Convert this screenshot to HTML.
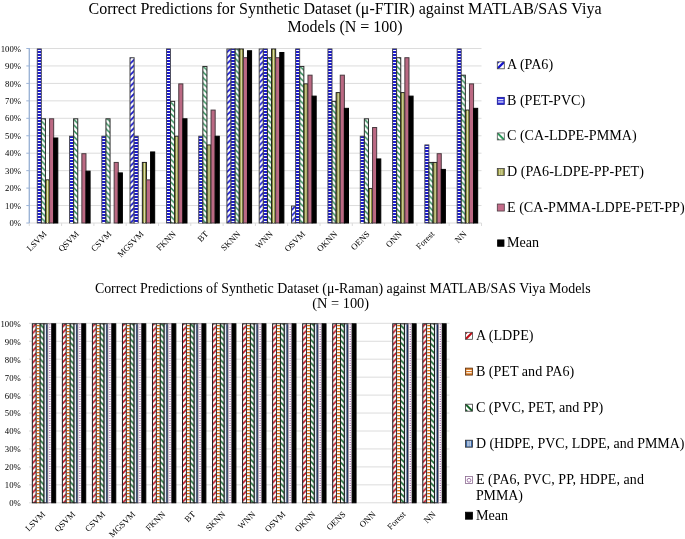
<!DOCTYPE html>
<html><head><meta charset="utf-8"><title>Correct Predictions charts</title>
<style>html,body{margin:0;padding:0;background:#fff}svg{display:block}text{font-family:'Liberation Serif','Times New Roman',serif;fill:#000}</style></head><body>
<svg width="685" height="539" viewBox="0 0 685 539">
<defs>
<pattern id="p1a" width="5.7" height="5.7" patternUnits="userSpaceOnUse"><rect width="5.7" height="5.7" fill="#fff"/><path d="M-1,1 L1,-1 M-1,6.7 L6.7,-1 M4.7,6.7 L6.7,4.7" stroke="#1414cc" stroke-width="1.75"/></pattern>
<pattern id="p1c" width="5.7" height="5.7" patternUnits="userSpaceOnUse"><rect width="5.7" height="5.7" fill="#fff"/><path d="M-1,-1 L6.7,6.7 M-1,4.7 L1,6.7 M4.7,-1 L6.7,1" stroke="#2a8a54" stroke-width="1.5"/></pattern>
<pattern id="p2a" width="5.9" height="5.9" patternUnits="userSpaceOnUse"><rect width="5.9" height="5.9" fill="#fff"/><path d="M-1,1 L1,-1 M-1,6.9 L6.9,-1 M4.9,6.9 L6.9,4.9" stroke="#c01020" stroke-width="1.7"/></pattern>
<pattern id="p2c" width="5.8" height="5.8" patternUnits="userSpaceOnUse"><rect width="5.8" height="5.8" fill="#fff"/><path d="M-1,-1 L6.8,6.8 M-1,4.8 L1,6.8 M4.8,-1 L6.8,1" stroke="#1a6e34" stroke-width="1.6"/></pattern>
</defs>
<rect width="685" height="539" fill="#fff"/>
<line x1="29.30" y1="223.00" x2="481.50" y2="223.00" stroke="#dcdcdc" stroke-width="1"/>
<line x1="29.30" y1="205.55" x2="481.50" y2="205.55" stroke="#dcdcdc" stroke-width="1"/>
<line x1="29.30" y1="188.10" x2="481.50" y2="188.10" stroke="#dcdcdc" stroke-width="1"/>
<line x1="29.30" y1="170.65" x2="481.50" y2="170.65" stroke="#dcdcdc" stroke-width="1"/>
<line x1="29.30" y1="153.20" x2="481.50" y2="153.20" stroke="#dcdcdc" stroke-width="1"/>
<line x1="29.30" y1="135.75" x2="481.50" y2="135.75" stroke="#dcdcdc" stroke-width="1"/>
<line x1="29.30" y1="118.30" x2="481.50" y2="118.30" stroke="#dcdcdc" stroke-width="1"/>
<line x1="29.30" y1="100.85" x2="481.50" y2="100.85" stroke="#dcdcdc" stroke-width="1"/>
<line x1="29.30" y1="83.40" x2="481.50" y2="83.40" stroke="#dcdcdc" stroke-width="1"/>
<line x1="29.30" y1="65.95" x2="481.50" y2="65.95" stroke="#dcdcdc" stroke-width="1"/>
<line x1="29.30" y1="48.50" x2="481.50" y2="48.50" stroke="#dcdcdc" stroke-width="1"/>
<rect x="37.22" y="48.90" width="4.11" height="174.10" fill="#1c1ccc" stroke="#444" stroke-width="0.8"/>
<line x1="39.28" y1="50.00" x2="39.28" y2="223.00" stroke="#fff" stroke-width="3" stroke-dasharray="1 2"/>
<rect x="41.34" y="118.80" width="4.11" height="104.20" fill="url(#p1c)" stroke="#2a2a2a" stroke-width="1"/>
<rect x="45.45" y="179.88" width="4.11" height="43.12" fill="#8a8e3c" stroke="#222" stroke-width="1"/>
<rect x="47.01" y="180.38" width="1.00" height="42.62" fill="#e2e2b4"/>
<rect x="49.56" y="118.80" width="4.11" height="104.20" fill="#bb6983" stroke="#4a3a40" stroke-width="1"/>
<rect x="53.68" y="138.00" width="4.11" height="85.00" fill="#000" stroke="#000" stroke-width="1"/>
<rect x="69.52" y="136.15" width="4.11" height="86.85" fill="#1c1ccc" stroke="#444" stroke-width="0.8"/>
<line x1="71.58" y1="138.00" x2="71.58" y2="223.00" stroke="#fff" stroke-width="3" stroke-dasharray="1 2"/>
<rect x="73.64" y="118.80" width="4.11" height="104.20" fill="url(#p1c)" stroke="#2a2a2a" stroke-width="1"/>
<rect x="81.86" y="153.70" width="4.11" height="69.30" fill="#bb6983" stroke="#4a3a40" stroke-width="1"/>
<rect x="85.98" y="171.15" width="4.11" height="51.85" fill="#000" stroke="#000" stroke-width="1"/>
<rect x="101.82" y="136.15" width="4.11" height="86.85" fill="#1c1ccc" stroke="#444" stroke-width="0.8"/>
<line x1="103.88" y1="138.00" x2="103.88" y2="223.00" stroke="#fff" stroke-width="3" stroke-dasharray="1 2"/>
<rect x="105.94" y="118.80" width="4.11" height="104.20" fill="url(#p1c)" stroke="#2a2a2a" stroke-width="1"/>
<rect x="114.16" y="162.43" width="4.11" height="60.57" fill="#bb6983" stroke="#4a3a40" stroke-width="1"/>
<rect x="118.28" y="172.90" width="4.11" height="50.10" fill="#000" stroke="#000" stroke-width="1"/>
<rect x="130.01" y="57.72" width="4.11" height="165.28" fill="url(#p1a)" stroke="#444" stroke-width="1"/>
<rect x="134.12" y="136.15" width="4.11" height="86.85" fill="#1c1ccc" stroke="#444" stroke-width="0.8"/>
<line x1="136.18" y1="138.00" x2="136.18" y2="223.00" stroke="#fff" stroke-width="3" stroke-dasharray="1 2"/>
<rect x="142.35" y="162.43" width="4.11" height="60.57" fill="#8a8e3c" stroke="#222" stroke-width="1"/>
<rect x="143.91" y="162.93" width="1.00" height="60.07" fill="#e2e2b4"/>
<rect x="146.46" y="179.88" width="4.11" height="43.12" fill="#bb6983" stroke="#4a3a40" stroke-width="1"/>
<rect x="150.58" y="151.95" width="4.11" height="71.05" fill="#000" stroke="#000" stroke-width="1"/>
<rect x="166.42" y="48.90" width="4.11" height="174.10" fill="#1c1ccc" stroke="#444" stroke-width="0.8"/>
<line x1="168.48" y1="50.00" x2="168.48" y2="223.00" stroke="#fff" stroke-width="3" stroke-dasharray="1 2"/>
<rect x="170.54" y="101.35" width="4.11" height="121.65" fill="url(#p1c)" stroke="#2a2a2a" stroke-width="1"/>
<rect x="174.65" y="136.25" width="4.11" height="86.75" fill="#8a8e3c" stroke="#222" stroke-width="1"/>
<rect x="176.21" y="136.75" width="1.00" height="86.25" fill="#e2e2b4"/>
<rect x="178.76" y="83.90" width="4.11" height="139.10" fill="#bb6983" stroke="#4a3a40" stroke-width="1"/>
<rect x="182.88" y="118.80" width="4.11" height="104.20" fill="#000" stroke="#000" stroke-width="1"/>
<rect x="198.72" y="136.15" width="4.11" height="86.85" fill="#1c1ccc" stroke="#444" stroke-width="0.8"/>
<line x1="200.78" y1="138.00" x2="200.78" y2="223.00" stroke="#fff" stroke-width="3" stroke-dasharray="1 2"/>
<rect x="202.84" y="66.45" width="4.11" height="156.55" fill="url(#p1c)" stroke="#2a2a2a" stroke-width="1"/>
<rect x="206.95" y="144.97" width="4.11" height="78.03" fill="#8a8e3c" stroke="#222" stroke-width="1"/>
<rect x="208.51" y="145.47" width="1.00" height="77.53" fill="#e2e2b4"/>
<rect x="211.06" y="110.08" width="4.11" height="112.92" fill="#bb6983" stroke="#4a3a40" stroke-width="1"/>
<rect x="215.18" y="136.25" width="4.11" height="86.75" fill="#000" stroke="#000" stroke-width="1"/>
<rect x="226.91" y="49.00" width="4.11" height="174.00" fill="url(#p1a)" stroke="#444" stroke-width="1"/>
<rect x="231.02" y="48.90" width="4.11" height="174.10" fill="#1c1ccc" stroke="#444" stroke-width="0.8"/>
<line x1="233.08" y1="50.00" x2="233.08" y2="223.00" stroke="#fff" stroke-width="3" stroke-dasharray="1 2"/>
<rect x="235.14" y="49.00" width="4.11" height="174.00" fill="url(#p1c)" stroke="#2a2a2a" stroke-width="1"/>
<rect x="239.25" y="49.00" width="4.11" height="174.00" fill="#8a8e3c" stroke="#222" stroke-width="1"/>
<rect x="240.81" y="49.50" width="1.00" height="173.50" fill="#e2e2b4"/>
<rect x="243.36" y="57.72" width="4.11" height="165.28" fill="#bb6983" stroke="#4a3a40" stroke-width="1"/>
<rect x="247.48" y="50.75" width="4.11" height="172.25" fill="#000" stroke="#000" stroke-width="1"/>
<rect x="259.21" y="49.00" width="4.11" height="174.00" fill="url(#p1a)" stroke="#444" stroke-width="1"/>
<rect x="263.32" y="48.90" width="4.11" height="174.10" fill="#1c1ccc" stroke="#444" stroke-width="0.8"/>
<line x1="265.38" y1="50.00" x2="265.38" y2="223.00" stroke="#fff" stroke-width="3" stroke-dasharray="1 2"/>
<rect x="267.44" y="57.72" width="4.11" height="165.28" fill="url(#p1c)" stroke="#2a2a2a" stroke-width="1"/>
<rect x="271.55" y="49.00" width="4.11" height="174.00" fill="#8a8e3c" stroke="#222" stroke-width="1"/>
<rect x="273.11" y="49.50" width="1.00" height="173.50" fill="#e2e2b4"/>
<rect x="275.66" y="57.72" width="4.11" height="165.28" fill="#bb6983" stroke="#4a3a40" stroke-width="1"/>
<rect x="279.78" y="52.49" width="4.11" height="170.51" fill="#000" stroke="#000" stroke-width="1"/>
<rect x="291.51" y="206.05" width="4.11" height="16.95" fill="url(#p1a)" stroke="#444" stroke-width="1"/>
<rect x="295.62" y="48.90" width="4.11" height="174.10" fill="#1c1ccc" stroke="#444" stroke-width="0.8"/>
<line x1="297.68" y1="50.00" x2="297.68" y2="223.00" stroke="#fff" stroke-width="3" stroke-dasharray="1 2"/>
<rect x="299.74" y="66.45" width="4.11" height="156.55" fill="url(#p1c)" stroke="#2a2a2a" stroke-width="1"/>
<rect x="303.85" y="83.90" width="4.11" height="139.10" fill="#8a8e3c" stroke="#222" stroke-width="1"/>
<rect x="305.41" y="84.40" width="1.00" height="138.60" fill="#e2e2b4"/>
<rect x="307.96" y="75.18" width="4.11" height="147.82" fill="#bb6983" stroke="#4a3a40" stroke-width="1"/>
<rect x="312.08" y="96.12" width="4.11" height="126.88" fill="#000" stroke="#000" stroke-width="1"/>
<rect x="327.92" y="48.90" width="4.11" height="174.10" fill="#1c1ccc" stroke="#444" stroke-width="0.8"/>
<line x1="329.98" y1="50.00" x2="329.98" y2="223.00" stroke="#fff" stroke-width="3" stroke-dasharray="1 2"/>
<rect x="332.04" y="101.35" width="4.11" height="121.65" fill="url(#p1c)" stroke="#2a2a2a" stroke-width="1"/>
<rect x="336.15" y="92.62" width="4.11" height="130.38" fill="#8a8e3c" stroke="#222" stroke-width="1"/>
<rect x="337.71" y="93.12" width="1.00" height="129.88" fill="#e2e2b4"/>
<rect x="340.26" y="75.18" width="4.11" height="147.82" fill="#bb6983" stroke="#4a3a40" stroke-width="1"/>
<rect x="344.38" y="108.33" width="4.11" height="114.67" fill="#000" stroke="#000" stroke-width="1"/>
<rect x="360.22" y="136.15" width="4.11" height="86.85" fill="#1c1ccc" stroke="#444" stroke-width="0.8"/>
<line x1="362.28" y1="138.00" x2="362.28" y2="223.00" stroke="#fff" stroke-width="3" stroke-dasharray="1 2"/>
<rect x="364.34" y="118.80" width="4.11" height="104.20" fill="url(#p1c)" stroke="#2a2a2a" stroke-width="1"/>
<rect x="368.45" y="188.60" width="4.11" height="34.40" fill="#8a8e3c" stroke="#222" stroke-width="1"/>
<rect x="370.01" y="189.10" width="1.00" height="33.90" fill="#e2e2b4"/>
<rect x="372.56" y="127.52" width="4.11" height="95.48" fill="#bb6983" stroke="#4a3a40" stroke-width="1"/>
<rect x="376.68" y="158.94" width="4.11" height="64.06" fill="#000" stroke="#000" stroke-width="1"/>
<rect x="392.52" y="48.90" width="4.11" height="174.10" fill="#1c1ccc" stroke="#444" stroke-width="0.8"/>
<line x1="394.58" y1="50.00" x2="394.58" y2="223.00" stroke="#fff" stroke-width="3" stroke-dasharray="1 2"/>
<rect x="396.64" y="57.72" width="4.11" height="165.28" fill="url(#p1c)" stroke="#2a2a2a" stroke-width="1"/>
<rect x="400.75" y="92.62" width="4.11" height="130.38" fill="#8a8e3c" stroke="#222" stroke-width="1"/>
<rect x="402.31" y="93.12" width="1.00" height="129.88" fill="#e2e2b4"/>
<rect x="404.86" y="57.72" width="4.11" height="165.28" fill="#bb6983" stroke="#4a3a40" stroke-width="1"/>
<rect x="408.98" y="96.12" width="4.11" height="126.88" fill="#000" stroke="#000" stroke-width="1"/>
<rect x="424.82" y="144.88" width="4.11" height="78.12" fill="#1c1ccc" stroke="#444" stroke-width="0.8"/>
<line x1="426.88" y1="146.00" x2="426.88" y2="223.00" stroke="#fff" stroke-width="3" stroke-dasharray="1 2"/>
<rect x="428.94" y="162.43" width="4.11" height="60.57" fill="url(#p1c)" stroke="#2a2a2a" stroke-width="1"/>
<rect x="433.05" y="162.43" width="4.11" height="60.57" fill="#8a8e3c" stroke="#222" stroke-width="1"/>
<rect x="434.61" y="162.93" width="1.00" height="60.07" fill="#e2e2b4"/>
<rect x="437.16" y="153.70" width="4.11" height="69.30" fill="#bb6983" stroke="#4a3a40" stroke-width="1"/>
<rect x="441.28" y="169.41" width="4.11" height="53.59" fill="#000" stroke="#000" stroke-width="1"/>
<rect x="457.12" y="48.90" width="4.11" height="174.10" fill="#1c1ccc" stroke="#444" stroke-width="0.8"/>
<line x1="459.18" y1="50.00" x2="459.18" y2="223.00" stroke="#fff" stroke-width="3" stroke-dasharray="1 2"/>
<rect x="461.24" y="75.18" width="4.11" height="147.82" fill="url(#p1c)" stroke="#2a2a2a" stroke-width="1"/>
<rect x="465.35" y="110.08" width="4.11" height="112.92" fill="#8a8e3c" stroke="#222" stroke-width="1"/>
<rect x="466.91" y="110.58" width="1.00" height="112.42" fill="#e2e2b4"/>
<rect x="469.46" y="83.90" width="4.11" height="139.10" fill="#bb6983" stroke="#4a3a40" stroke-width="1"/>
<rect x="473.58" y="108.33" width="4.11" height="114.67" fill="#000" stroke="#000" stroke-width="1"/>
<line x1="29.30" y1="48.00" x2="29.30" y2="223.50" stroke="#9db4d6" stroke-width="1.4"/>
<line x1="26.30" y1="223.00" x2="29.30" y2="223.00" stroke="#9db4d6" stroke-width="1"/>
<line x1="26.30" y1="205.55" x2="29.30" y2="205.55" stroke="#9db4d6" stroke-width="1"/>
<line x1="26.30" y1="188.10" x2="29.30" y2="188.10" stroke="#9db4d6" stroke-width="1"/>
<line x1="26.30" y1="170.65" x2="29.30" y2="170.65" stroke="#9db4d6" stroke-width="1"/>
<line x1="26.30" y1="153.20" x2="29.30" y2="153.20" stroke="#9db4d6" stroke-width="1"/>
<line x1="26.30" y1="135.75" x2="29.30" y2="135.75" stroke="#9db4d6" stroke-width="1"/>
<line x1="26.30" y1="118.30" x2="29.30" y2="118.30" stroke="#9db4d6" stroke-width="1"/>
<line x1="26.30" y1="100.85" x2="29.30" y2="100.85" stroke="#9db4d6" stroke-width="1"/>
<line x1="26.30" y1="83.40" x2="29.30" y2="83.40" stroke="#9db4d6" stroke-width="1"/>
<line x1="26.30" y1="65.95" x2="29.30" y2="65.95" stroke="#9db4d6" stroke-width="1"/>
<line x1="26.30" y1="48.50" x2="29.30" y2="48.50" stroke="#9db4d6" stroke-width="1"/>
<line x1="29.30" y1="223.00" x2="29.30" y2="226.00" stroke="#dcdcdc" stroke-width="1"/>
<line x1="61.60" y1="223.00" x2="61.60" y2="226.00" stroke="#dcdcdc" stroke-width="1"/>
<line x1="93.90" y1="223.00" x2="93.90" y2="226.00" stroke="#dcdcdc" stroke-width="1"/>
<line x1="126.20" y1="223.00" x2="126.20" y2="226.00" stroke="#dcdcdc" stroke-width="1"/>
<line x1="158.50" y1="223.00" x2="158.50" y2="226.00" stroke="#dcdcdc" stroke-width="1"/>
<line x1="190.80" y1="223.00" x2="190.80" y2="226.00" stroke="#dcdcdc" stroke-width="1"/>
<line x1="223.10" y1="223.00" x2="223.10" y2="226.00" stroke="#dcdcdc" stroke-width="1"/>
<line x1="255.40" y1="223.00" x2="255.40" y2="226.00" stroke="#dcdcdc" stroke-width="1"/>
<line x1="287.70" y1="223.00" x2="287.70" y2="226.00" stroke="#dcdcdc" stroke-width="1"/>
<line x1="320.00" y1="223.00" x2="320.00" y2="226.00" stroke="#dcdcdc" stroke-width="1"/>
<line x1="352.30" y1="223.00" x2="352.30" y2="226.00" stroke="#dcdcdc" stroke-width="1"/>
<line x1="384.60" y1="223.00" x2="384.60" y2="226.00" stroke="#dcdcdc" stroke-width="1"/>
<line x1="416.90" y1="223.00" x2="416.90" y2="226.00" stroke="#dcdcdc" stroke-width="1"/>
<line x1="449.20" y1="223.00" x2="449.20" y2="226.00" stroke="#dcdcdc" stroke-width="1"/>
<line x1="481.50" y1="223.00" x2="481.50" y2="226.00" stroke="#dcdcdc" stroke-width="1"/>
<text x="21.00" y="226.10" font-size="8.7" text-anchor="end" fill="#111">0%</text>
<text x="21.00" y="208.65" font-size="8.7" text-anchor="end" fill="#111">10%</text>
<text x="21.00" y="191.20" font-size="8.7" text-anchor="end" fill="#111">20%</text>
<text x="21.00" y="173.75" font-size="8.7" text-anchor="end" fill="#111">30%</text>
<text x="21.00" y="156.30" font-size="8.7" text-anchor="end" fill="#111">40%</text>
<text x="21.00" y="138.85" font-size="8.7" text-anchor="end" fill="#111">50%</text>
<text x="21.00" y="121.40" font-size="8.7" text-anchor="end" fill="#111">60%</text>
<text x="21.00" y="103.95" font-size="8.7" text-anchor="end" fill="#111">70%</text>
<text x="21.00" y="86.50" font-size="8.7" text-anchor="end" fill="#111">80%</text>
<text x="21.00" y="69.05" font-size="8.7" text-anchor="end" fill="#111">90%</text>
<text x="21.00" y="51.60" font-size="8.7" text-anchor="end" fill="#111">100%</text>
<text font-size="8.7" text-anchor="end" fill="#111" transform="translate(47.25,234.60) rotate(-45)">LSVM</text>
<text font-size="8.7" text-anchor="end" fill="#111" transform="translate(79.55,234.60) rotate(-45)">QSVM</text>
<text font-size="8.7" text-anchor="end" fill="#111" transform="translate(111.85,234.60) rotate(-45)">CSVM</text>
<text font-size="8.7" text-anchor="end" fill="#111" transform="translate(144.15,234.60) rotate(-45)">MGSVM</text>
<text font-size="8.7" text-anchor="end" fill="#111" transform="translate(176.45,234.60) rotate(-45)">FKNN</text>
<text font-size="8.7" text-anchor="end" fill="#111" transform="translate(208.75,234.60) rotate(-45)">BT</text>
<text font-size="8.7" text-anchor="end" fill="#111" transform="translate(241.05,234.60) rotate(-45)">SKNN</text>
<text font-size="8.7" text-anchor="end" fill="#111" transform="translate(273.35,234.60) rotate(-45)">WNN</text>
<text font-size="8.7" text-anchor="end" fill="#111" transform="translate(305.65,234.60) rotate(-45)">OSVM</text>
<text font-size="8.7" text-anchor="end" fill="#111" transform="translate(337.95,234.60) rotate(-45)">OKNN</text>
<text font-size="8.7" text-anchor="end" fill="#111" transform="translate(370.25,234.60) rotate(-45)">OENS</text>
<text font-size="8.7" text-anchor="end" fill="#111" transform="translate(402.55,234.60) rotate(-45)">ONN</text>
<text font-size="8.7" text-anchor="end" fill="#111" transform="translate(434.85,234.60) rotate(-45)">Forest</text>
<text font-size="8.7" text-anchor="end" fill="#111" transform="translate(467.15,234.60) rotate(-45)">NN</text>
<line x1="29.00" y1="502.80" x2="449.50" y2="502.80" stroke="#dcdcdc" stroke-width="1"/>
<line x1="29.00" y1="484.85" x2="449.50" y2="484.85" stroke="#dcdcdc" stroke-width="1"/>
<line x1="29.00" y1="466.90" x2="449.50" y2="466.90" stroke="#dcdcdc" stroke-width="1"/>
<line x1="29.00" y1="448.95" x2="449.50" y2="448.95" stroke="#dcdcdc" stroke-width="1"/>
<line x1="29.00" y1="431.00" x2="449.50" y2="431.00" stroke="#dcdcdc" stroke-width="1"/>
<line x1="29.00" y1="413.05" x2="449.50" y2="413.05" stroke="#dcdcdc" stroke-width="1"/>
<line x1="29.00" y1="395.10" x2="449.50" y2="395.10" stroke="#dcdcdc" stroke-width="1"/>
<line x1="29.00" y1="377.15" x2="449.50" y2="377.15" stroke="#dcdcdc" stroke-width="1"/>
<line x1="29.00" y1="359.20" x2="449.50" y2="359.20" stroke="#dcdcdc" stroke-width="1"/>
<line x1="29.00" y1="341.25" x2="449.50" y2="341.25" stroke="#dcdcdc" stroke-width="1"/>
<line x1="29.00" y1="323.30" x2="449.50" y2="323.30" stroke="#dcdcdc" stroke-width="1"/>
<rect x="32.33" y="323.80" width="3.89" height="179.00" fill="url(#p2a)" stroke="#1a1a1a" stroke-width="1"/>
<rect x="36.23" y="323.70" width="3.89" height="179.10" fill="#fff" stroke="#222" stroke-width="0.8"/>
<line x1="38.18" y1="325.00" x2="38.18" y2="502.80" stroke="#d87010" stroke-width="2.8" stroke-dasharray="1.2 1.8"/>
<rect x="40.12" y="323.80" width="3.89" height="179.00" fill="url(#p2c)" stroke="#1a1a1a" stroke-width="1"/>
<rect x="44.02" y="323.80" width="3.89" height="179.00" fill="#e4ecf4" stroke="#1a1a1a" stroke-width="1"/>
<rect x="46.12" y="324.30" width="1.50" height="178.50" fill="#182c58"/>
<rect x="47.91" y="323.65" width="3.89" height="179.15" fill="#fff" stroke="#8a8088" stroke-width="0.7"/>
<line x1="49.86" y1="324.30" x2="49.86" y2="502.80" stroke="#a868b0" stroke-width="1.3" stroke-dasharray="1 1.4"/>
<rect x="51.81" y="323.80" width="3.89" height="179.00" fill="#000" stroke="#000" stroke-width="1"/>
<rect x="62.37" y="323.80" width="3.89" height="179.00" fill="url(#p2a)" stroke="#1a1a1a" stroke-width="1"/>
<rect x="66.26" y="323.70" width="3.89" height="179.10" fill="#fff" stroke="#222" stroke-width="0.8"/>
<line x1="68.21" y1="325.00" x2="68.21" y2="502.80" stroke="#d87010" stroke-width="2.8" stroke-dasharray="1.2 1.8"/>
<rect x="70.16" y="323.80" width="3.89" height="179.00" fill="url(#p2c)" stroke="#1a1a1a" stroke-width="1"/>
<rect x="74.05" y="323.80" width="3.89" height="179.00" fill="#e4ecf4" stroke="#1a1a1a" stroke-width="1"/>
<rect x="76.15" y="324.30" width="1.50" height="178.50" fill="#182c58"/>
<rect x="77.95" y="323.65" width="3.89" height="179.15" fill="#fff" stroke="#8a8088" stroke-width="0.7"/>
<line x1="79.90" y1="324.30" x2="79.90" y2="502.80" stroke="#a868b0" stroke-width="1.3" stroke-dasharray="1 1.4"/>
<rect x="81.84" y="323.80" width="3.89" height="179.00" fill="#000" stroke="#000" stroke-width="1"/>
<rect x="92.41" y="323.80" width="3.89" height="179.00" fill="url(#p2a)" stroke="#1a1a1a" stroke-width="1"/>
<rect x="96.30" y="323.70" width="3.89" height="179.10" fill="#fff" stroke="#222" stroke-width="0.8"/>
<line x1="98.25" y1="325.00" x2="98.25" y2="502.80" stroke="#d87010" stroke-width="2.8" stroke-dasharray="1.2 1.8"/>
<rect x="100.19" y="323.80" width="3.89" height="179.00" fill="url(#p2c)" stroke="#1a1a1a" stroke-width="1"/>
<rect x="104.09" y="323.80" width="3.89" height="179.00" fill="#e4ecf4" stroke="#1a1a1a" stroke-width="1"/>
<rect x="106.19" y="324.30" width="1.50" height="178.50" fill="#182c58"/>
<rect x="107.98" y="323.65" width="3.89" height="179.15" fill="#fff" stroke="#8a8088" stroke-width="0.7"/>
<line x1="109.93" y1="324.30" x2="109.93" y2="502.80" stroke="#a868b0" stroke-width="1.3" stroke-dasharray="1 1.4"/>
<rect x="111.88" y="323.80" width="3.89" height="179.00" fill="#000" stroke="#000" stroke-width="1"/>
<rect x="122.44" y="323.80" width="3.89" height="179.00" fill="url(#p2a)" stroke="#1a1a1a" stroke-width="1"/>
<rect x="126.34" y="323.70" width="3.89" height="179.10" fill="#fff" stroke="#222" stroke-width="0.8"/>
<line x1="128.28" y1="325.00" x2="128.28" y2="502.80" stroke="#d87010" stroke-width="2.8" stroke-dasharray="1.2 1.8"/>
<rect x="130.23" y="323.80" width="3.89" height="179.00" fill="url(#p2c)" stroke="#1a1a1a" stroke-width="1"/>
<rect x="134.12" y="323.80" width="3.89" height="179.00" fill="#e4ecf4" stroke="#1a1a1a" stroke-width="1"/>
<rect x="136.22" y="324.30" width="1.50" height="178.50" fill="#182c58"/>
<rect x="138.02" y="323.65" width="3.89" height="179.15" fill="#fff" stroke="#8a8088" stroke-width="0.7"/>
<line x1="139.97" y1="324.30" x2="139.97" y2="502.80" stroke="#a868b0" stroke-width="1.3" stroke-dasharray="1 1.4"/>
<rect x="141.91" y="323.80" width="3.89" height="179.00" fill="#000" stroke="#000" stroke-width="1"/>
<rect x="152.48" y="323.80" width="3.89" height="179.00" fill="url(#p2a)" stroke="#1a1a1a" stroke-width="1"/>
<rect x="156.37" y="323.70" width="3.89" height="179.10" fill="#fff" stroke="#222" stroke-width="0.8"/>
<line x1="158.32" y1="325.00" x2="158.32" y2="502.80" stroke="#d87010" stroke-width="2.8" stroke-dasharray="1.2 1.8"/>
<rect x="160.27" y="323.80" width="3.89" height="179.00" fill="url(#p2c)" stroke="#1a1a1a" stroke-width="1"/>
<rect x="164.16" y="323.80" width="3.89" height="179.00" fill="#e4ecf4" stroke="#1a1a1a" stroke-width="1"/>
<rect x="166.26" y="324.30" width="1.50" height="178.50" fill="#182c58"/>
<rect x="168.06" y="323.65" width="3.89" height="179.15" fill="#fff" stroke="#8a8088" stroke-width="0.7"/>
<line x1="170.00" y1="324.30" x2="170.00" y2="502.80" stroke="#a868b0" stroke-width="1.3" stroke-dasharray="1 1.4"/>
<rect x="171.95" y="323.80" width="3.89" height="179.00" fill="#000" stroke="#000" stroke-width="1"/>
<rect x="182.51" y="323.80" width="3.89" height="179.00" fill="url(#p2a)" stroke="#1a1a1a" stroke-width="1"/>
<rect x="186.41" y="323.70" width="3.89" height="179.10" fill="#fff" stroke="#222" stroke-width="0.8"/>
<line x1="188.35" y1="325.00" x2="188.35" y2="502.80" stroke="#d87010" stroke-width="2.8" stroke-dasharray="1.2 1.8"/>
<rect x="190.30" y="323.80" width="3.89" height="179.00" fill="url(#p2c)" stroke="#1a1a1a" stroke-width="1"/>
<rect x="194.20" y="323.80" width="3.89" height="179.00" fill="#e4ecf4" stroke="#1a1a1a" stroke-width="1"/>
<rect x="196.29" y="324.30" width="1.50" height="178.50" fill="#182c58"/>
<rect x="198.09" y="323.65" width="3.89" height="179.15" fill="#fff" stroke="#8a8088" stroke-width="0.7"/>
<line x1="200.04" y1="324.30" x2="200.04" y2="502.80" stroke="#a868b0" stroke-width="1.3" stroke-dasharray="1 1.4"/>
<rect x="201.99" y="323.80" width="3.89" height="179.00" fill="#000" stroke="#000" stroke-width="1"/>
<rect x="212.55" y="323.80" width="3.89" height="179.00" fill="url(#p2a)" stroke="#1a1a1a" stroke-width="1"/>
<rect x="216.44" y="323.70" width="3.89" height="179.10" fill="#fff" stroke="#222" stroke-width="0.8"/>
<line x1="218.39" y1="325.00" x2="218.39" y2="502.80" stroke="#d87010" stroke-width="2.8" stroke-dasharray="1.2 1.8"/>
<rect x="220.34" y="323.80" width="3.89" height="179.00" fill="url(#p2c)" stroke="#1a1a1a" stroke-width="1"/>
<rect x="224.23" y="323.80" width="3.89" height="179.00" fill="#e4ecf4" stroke="#1a1a1a" stroke-width="1"/>
<rect x="226.33" y="324.30" width="1.50" height="178.50" fill="#182c58"/>
<rect x="228.13" y="323.65" width="3.89" height="179.15" fill="#fff" stroke="#8a8088" stroke-width="0.7"/>
<line x1="230.07" y1="324.30" x2="230.07" y2="502.80" stroke="#a868b0" stroke-width="1.3" stroke-dasharray="1 1.4"/>
<rect x="232.02" y="323.80" width="3.89" height="179.00" fill="#000" stroke="#000" stroke-width="1"/>
<rect x="242.58" y="323.80" width="3.89" height="179.00" fill="url(#p2a)" stroke="#1a1a1a" stroke-width="1"/>
<rect x="246.48" y="323.70" width="3.89" height="179.10" fill="#fff" stroke="#222" stroke-width="0.8"/>
<line x1="248.43" y1="325.00" x2="248.43" y2="502.80" stroke="#d87010" stroke-width="2.8" stroke-dasharray="1.2 1.8"/>
<rect x="250.37" y="323.80" width="3.89" height="179.00" fill="url(#p2c)" stroke="#1a1a1a" stroke-width="1"/>
<rect x="254.27" y="323.80" width="3.89" height="179.00" fill="#e4ecf4" stroke="#1a1a1a" stroke-width="1"/>
<rect x="256.37" y="324.30" width="1.50" height="178.50" fill="#182c58"/>
<rect x="258.16" y="323.65" width="3.89" height="179.15" fill="#fff" stroke="#8a8088" stroke-width="0.7"/>
<line x1="260.11" y1="324.30" x2="260.11" y2="502.80" stroke="#a868b0" stroke-width="1.3" stroke-dasharray="1 1.4"/>
<rect x="262.06" y="323.80" width="3.89" height="179.00" fill="#000" stroke="#000" stroke-width="1"/>
<rect x="272.62" y="323.80" width="3.89" height="179.00" fill="url(#p2a)" stroke="#1a1a1a" stroke-width="1"/>
<rect x="276.51" y="323.70" width="3.89" height="179.10" fill="#fff" stroke="#222" stroke-width="0.8"/>
<line x1="278.46" y1="325.00" x2="278.46" y2="502.80" stroke="#d87010" stroke-width="2.8" stroke-dasharray="1.2 1.8"/>
<rect x="280.41" y="323.80" width="3.89" height="179.00" fill="url(#p2c)" stroke="#1a1a1a" stroke-width="1"/>
<rect x="284.30" y="323.80" width="3.89" height="179.00" fill="#e4ecf4" stroke="#1a1a1a" stroke-width="1"/>
<rect x="286.40" y="324.30" width="1.50" height="178.50" fill="#182c58"/>
<rect x="288.20" y="323.65" width="3.89" height="179.15" fill="#fff" stroke="#8a8088" stroke-width="0.7"/>
<line x1="290.15" y1="324.30" x2="290.15" y2="502.80" stroke="#a868b0" stroke-width="1.3" stroke-dasharray="1 1.4"/>
<rect x="292.09" y="323.80" width="3.89" height="179.00" fill="#000" stroke="#000" stroke-width="1"/>
<rect x="302.66" y="323.80" width="3.89" height="179.00" fill="url(#p2a)" stroke="#1a1a1a" stroke-width="1"/>
<rect x="306.55" y="323.70" width="3.89" height="179.10" fill="#fff" stroke="#222" stroke-width="0.8"/>
<line x1="308.50" y1="325.00" x2="308.50" y2="502.80" stroke="#d87010" stroke-width="2.8" stroke-dasharray="1.2 1.8"/>
<rect x="310.44" y="323.80" width="3.89" height="179.00" fill="url(#p2c)" stroke="#1a1a1a" stroke-width="1"/>
<rect x="314.34" y="323.80" width="3.89" height="179.00" fill="#e4ecf4" stroke="#1a1a1a" stroke-width="1"/>
<rect x="316.44" y="324.30" width="1.50" height="178.50" fill="#182c58"/>
<rect x="318.23" y="323.65" width="3.89" height="179.15" fill="#fff" stroke="#8a8088" stroke-width="0.7"/>
<line x1="320.18" y1="324.30" x2="320.18" y2="502.80" stroke="#a868b0" stroke-width="1.3" stroke-dasharray="1 1.4"/>
<rect x="322.13" y="323.80" width="3.89" height="179.00" fill="#000" stroke="#000" stroke-width="1"/>
<rect x="332.69" y="323.80" width="3.89" height="179.00" fill="url(#p2a)" stroke="#1a1a1a" stroke-width="1"/>
<rect x="336.59" y="323.70" width="3.89" height="179.10" fill="#fff" stroke="#222" stroke-width="0.8"/>
<line x1="338.53" y1="325.00" x2="338.53" y2="502.80" stroke="#d87010" stroke-width="2.8" stroke-dasharray="1.2 1.8"/>
<rect x="340.48" y="323.80" width="3.89" height="179.00" fill="url(#p2c)" stroke="#1a1a1a" stroke-width="1"/>
<rect x="344.37" y="323.80" width="3.89" height="179.00" fill="#e4ecf4" stroke="#1a1a1a" stroke-width="1"/>
<rect x="346.47" y="324.30" width="1.50" height="178.50" fill="#182c58"/>
<rect x="348.27" y="323.65" width="3.89" height="179.15" fill="#fff" stroke="#8a8088" stroke-width="0.7"/>
<line x1="350.22" y1="324.30" x2="350.22" y2="502.80" stroke="#a868b0" stroke-width="1.3" stroke-dasharray="1 1.4"/>
<rect x="352.16" y="323.80" width="3.89" height="179.00" fill="#000" stroke="#000" stroke-width="1"/>
<rect x="392.76" y="323.80" width="3.89" height="179.00" fill="url(#p2a)" stroke="#1a1a1a" stroke-width="1"/>
<rect x="396.66" y="323.70" width="3.89" height="179.10" fill="#fff" stroke="#222" stroke-width="0.8"/>
<line x1="398.60" y1="325.00" x2="398.60" y2="502.80" stroke="#d87010" stroke-width="2.8" stroke-dasharray="1.2 1.8"/>
<rect x="400.55" y="323.80" width="3.89" height="179.00" fill="url(#p2c)" stroke="#1a1a1a" stroke-width="1"/>
<rect x="404.45" y="323.80" width="3.89" height="179.00" fill="#e4ecf4" stroke="#1a1a1a" stroke-width="1"/>
<rect x="406.54" y="324.30" width="1.50" height="178.50" fill="#182c58"/>
<rect x="408.34" y="323.65" width="3.89" height="179.15" fill="#fff" stroke="#8a8088" stroke-width="0.7"/>
<line x1="410.29" y1="324.30" x2="410.29" y2="502.80" stroke="#a868b0" stroke-width="1.3" stroke-dasharray="1 1.4"/>
<rect x="412.24" y="323.80" width="3.89" height="179.00" fill="#000" stroke="#000" stroke-width="1"/>
<rect x="422.80" y="323.80" width="3.89" height="179.00" fill="url(#p2a)" stroke="#1a1a1a" stroke-width="1"/>
<rect x="426.69" y="323.70" width="3.89" height="179.10" fill="#fff" stroke="#222" stroke-width="0.8"/>
<line x1="428.64" y1="325.00" x2="428.64" y2="502.80" stroke="#d87010" stroke-width="2.8" stroke-dasharray="1.2 1.8"/>
<rect x="430.59" y="323.80" width="3.89" height="179.00" fill="url(#p2c)" stroke="#1a1a1a" stroke-width="1"/>
<rect x="434.48" y="323.80" width="3.89" height="179.00" fill="#e4ecf4" stroke="#1a1a1a" stroke-width="1"/>
<rect x="436.58" y="324.30" width="1.50" height="178.50" fill="#182c58"/>
<rect x="438.38" y="323.65" width="3.89" height="179.15" fill="#fff" stroke="#8a8088" stroke-width="0.7"/>
<line x1="440.32" y1="324.30" x2="440.32" y2="502.80" stroke="#a868b0" stroke-width="1.3" stroke-dasharray="1 1.4"/>
<rect x="442.27" y="323.80" width="3.89" height="179.00" fill="#000" stroke="#000" stroke-width="1"/>
<text x="20.80" y="506.20" font-size="8.7" text-anchor="end" fill="#111">0%</text>
<text x="20.80" y="488.25" font-size="8.7" text-anchor="end" fill="#111">10%</text>
<text x="20.80" y="470.30" font-size="8.7" text-anchor="end" fill="#111">20%</text>
<text x="20.80" y="452.35" font-size="8.7" text-anchor="end" fill="#111">30%</text>
<text x="20.80" y="434.40" font-size="8.7" text-anchor="end" fill="#111">40%</text>
<text x="20.80" y="416.45" font-size="8.7" text-anchor="end" fill="#111">50%</text>
<text x="20.80" y="398.50" font-size="8.7" text-anchor="end" fill="#111">60%</text>
<text x="20.80" y="380.55" font-size="8.7" text-anchor="end" fill="#111">70%</text>
<text x="20.80" y="362.60" font-size="8.7" text-anchor="end" fill="#111">80%</text>
<text x="20.80" y="344.65" font-size="8.7" text-anchor="end" fill="#111">90%</text>
<text x="20.80" y="326.70" font-size="8.7" text-anchor="end" fill="#111">100%</text>
<text font-size="8.7" text-anchor="end" fill="#111" transform="translate(45.72,514.80) rotate(-45)">LSVM</text>
<text font-size="8.7" text-anchor="end" fill="#111" transform="translate(75.75,514.80) rotate(-45)">QSVM</text>
<text font-size="8.7" text-anchor="end" fill="#111" transform="translate(105.79,514.80) rotate(-45)">CSVM</text>
<text font-size="8.7" text-anchor="end" fill="#111" transform="translate(135.82,514.80) rotate(-45)">MGSVM</text>
<text font-size="8.7" text-anchor="end" fill="#111" transform="translate(165.86,514.80) rotate(-45)">FKNN</text>
<text font-size="8.7" text-anchor="end" fill="#111" transform="translate(195.90,514.80) rotate(-45)">BT</text>
<text font-size="8.7" text-anchor="end" fill="#111" transform="translate(225.93,514.80) rotate(-45)">SKNN</text>
<text font-size="8.7" text-anchor="end" fill="#111" transform="translate(255.97,514.80) rotate(-45)">WNN</text>
<text font-size="8.7" text-anchor="end" fill="#111" transform="translate(286.00,514.80) rotate(-45)">OSVM</text>
<text font-size="8.7" text-anchor="end" fill="#111" transform="translate(316.04,514.80) rotate(-45)">OKNN</text>
<text font-size="8.7" text-anchor="end" fill="#111" transform="translate(346.07,514.80) rotate(-45)">OENS</text>
<text font-size="8.7" text-anchor="end" fill="#111" transform="translate(376.11,514.80) rotate(-45)">ONN</text>
<text font-size="8.7" text-anchor="end" fill="#111" transform="translate(406.15,514.80) rotate(-45)">Forest</text>
<text font-size="8.7" text-anchor="end" fill="#111" transform="translate(436.18,514.80) rotate(-45)">NN</text>
<text x="345" y="13.6" font-size="16" text-anchor="middle">Correct Predictions for Synthetic Dataset (μ-FTIR) against MATLAB/SAS Viya</text>
<text x="345" y="31.8" font-size="16" text-anchor="middle">Models (N = 100)</text>
<text x="342.75" y="292.8" font-size="13.92" text-anchor="middle">Correct Predictions of Synthetic Dataset (μ-Raman) against MATLAB/SAS Viya Models</text>
<text x="340.7" y="308.1" font-size="14.35" text-anchor="middle">(N = 100)</text>
<rect x="497.30" y="61.80" width="7.00" height="7.00" fill="#fff"/><clipPath id="c327"><rect x="497.30" y="61.80" width="7.00" height="7.00"/></clipPath><g clip-path="url(#c327)"><path d="M496.80,69.30 L504.80,61.30" stroke="#1414cc" stroke-width="2.2"/><path d="M497.30,61.80 l2.6,0 l-2.6,2.6z" fill="#1414cc"/></g><rect x="497.30" y="61.80" width="7.00" height="7.00" fill="none" stroke="#444" stroke-width="0.8"/>
<text x="507.0" y="69.30" font-size="14.1">A (PA6)</text>
<rect x="497.30" y="97.36" width="7.00" height="7.00" fill="#2a2ad8"/><line x1="498.10" y1="99.67" x2="503.50" y2="99.67" stroke="#fff" stroke-width="1.1"/><line x1="498.10" y1="101.98" x2="503.50" y2="101.98" stroke="#fff" stroke-width="1.1"/><rect x="497.30" y="97.36" width="7.00" height="7.00" fill="none" stroke="#1a1a90" stroke-width="0.8"/>
<text x="507.0" y="104.86" font-size="14.1">B (PET-PVC)</text>
<rect x="497.30" y="132.92" width="7.00" height="7.00" fill="#fff"/><clipPath id="c331"><rect x="497.30" y="132.92" width="7.00" height="7.00"/></clipPath><g clip-path="url(#c331)"><path d="M496.80,132.42 L504.80,140.42" stroke="#2e9a5c" stroke-width="2.0"/><path d="M497.30,139.92 l2.6,0 l-2.6,-2.6z" fill="#2e9a5c"/></g><rect x="497.30" y="132.92" width="7.00" height="7.00" fill="none" stroke="#555" stroke-width="0.8"/>
<text x="507.0" y="140.42" font-size="14.1">C (CA-LDPE-PMMA)</text>
<rect x="497.30" y="168.48" width="7.00" height="7.00" fill="#8e8e3e"/><line x1="499.82" y1="169.08" x2="499.82" y2="174.88" stroke="#e4e6a8" stroke-width="1.2"/><line x1="501.92" y1="169.08" x2="501.92" y2="174.88" stroke="#e4e6a8" stroke-width="1.2"/><rect x="497.30" y="168.48" width="7.00" height="7.00" fill="none" stroke="#444" stroke-width="0.8"/>
<text x="507.0" y="175.98" font-size="14.1">D (PA6-LDPE-PP-PET)</text>
<rect x="497.30" y="204.04" width="7.00" height="7.00" fill="#c46c8a"/><rect x="497.30" y="204.04" width="7.00" height="7.00" fill="none" stroke="#4a3a40" stroke-width="0.8"/>
<text x="507.0" y="211.54" font-size="14.1">E (CA-PMMA-LDPE-PET-PP)</text>
<rect x="497.60" y="239.90" width="6.40" height="6.40" fill="#000"/><rect x="497.60" y="239.90" width="6.40" height="6.40" fill="none" stroke="#000" stroke-width="0.8"/>
<text x="507.0" y="247.10" font-size="14.1">Mean</text>
<rect x="465.50" y="332.30" width="7.00" height="7.00" fill="#fff"/><clipPath id="c339"><rect x="465.50" y="332.30" width="7.00" height="7.00"/></clipPath><g clip-path="url(#c339)"><path d="M465.00,339.80 L473.00,331.80" stroke="#c01018" stroke-width="2.2"/><path d="M465.50,332.30 l2.6,0 l-2.6,2.6z" fill="#c01018"/></g><rect x="465.50" y="332.30" width="7.00" height="7.00" fill="none" stroke="#444" stroke-width="0.8"/>
<text x="475.9" y="339.70" font-size="14.1">A (LDPE)</text>
<rect x="465.50" y="368.10" width="7.00" height="7.00" fill="#d87820"/><line x1="466.30" y1="370.41" x2="471.70" y2="370.41" stroke="#fff" stroke-width="1.1"/><line x1="466.30" y1="372.72" x2="471.70" y2="372.72" stroke="#fff" stroke-width="1.1"/><rect x="465.50" y="368.10" width="7.00" height="7.00" fill="none" stroke="#5a3010" stroke-width="0.8"/>
<text x="475.9" y="375.50" font-size="14.1">B (PET and PA6)</text>
<rect x="465.50" y="404.20" width="7.00" height="7.00" fill="#fff"/><clipPath id="c343"><rect x="465.50" y="404.20" width="7.00" height="7.00"/></clipPath><g clip-path="url(#c343)"><path d="M465.00,403.70 L473.00,411.70" stroke="#146428" stroke-width="2.0"/><path d="M465.50,411.20 l2.6,0 l-2.6,-2.6z" fill="#146428"/></g><rect x="465.50" y="404.20" width="7.00" height="7.00" fill="none" stroke="#333" stroke-width="0.8"/>
<text x="475.9" y="411.60" font-size="14.1">C (PVC, PET, and PP)</text>
<rect x="465.50" y="440.20" width="7.00" height="7.00" fill="#3a68a8"/><line x1="468.02" y1="440.80" x2="468.02" y2="446.60" stroke="#f0f4fa" stroke-width="1.2"/><line x1="470.12" y1="440.80" x2="470.12" y2="446.60" stroke="#f0f4fa" stroke-width="1.2"/><rect x="465.50" y="440.20" width="7.00" height="7.00" fill="none" stroke="#333" stroke-width="0.8"/>
<text x="475.9" y="447.60" font-size="13.96">D (HDPE, PVC, LDPE, and PMMA)</text>
<rect x="465.50" y="476.50" width="7.00" height="7.00" fill="#fff"/><circle cx="469.00" cy="480.30" r="1.9" fill="none" stroke="#9a6aa0" stroke-width="0.9"/><rect x="465.50" y="476.50" width="7.00" height="7.00" fill="none" stroke="#8a6a90" stroke-width="0.8"/>
<text x="475.9" y="483.90" font-size="13.96" textLength="168" lengthAdjust="spacing">E (PA6, PVC, PP, HDPE, and</text>
<rect x="465.50" y="512.20" width="7.00" height="7.00" fill="#000"/><rect x="465.50" y="512.20" width="7.00" height="7.00" fill="none" stroke="#000" stroke-width="0.8"/>
<text x="475.9" y="519.60" font-size="14.1">Mean</text>
<text x="475.9" y="499.5" font-size="13.9">PMMA)</text>
</svg></body></html>
